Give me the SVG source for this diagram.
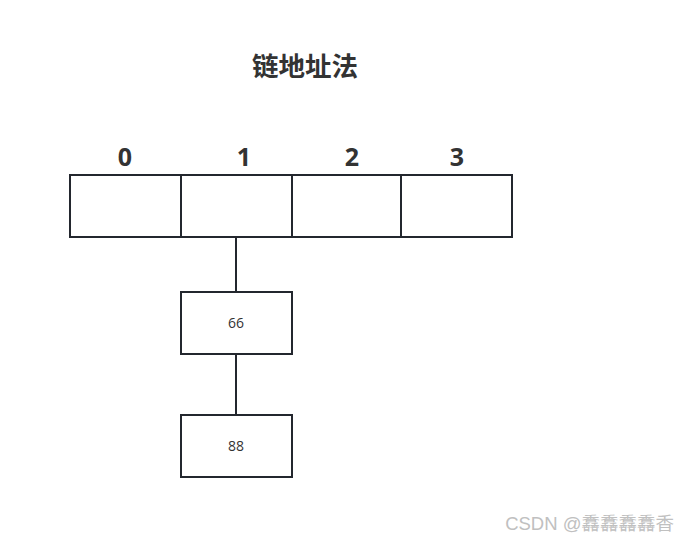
<svg xmlns="http://www.w3.org/2000/svg" width="688" height="542" viewBox="0 0 688 542">
<style>
.box{fill:#fff;stroke:#23272e;stroke-width:2}
.line{stroke:#23272e;stroke-width:2;fill:none}
.idx{font-family:"Open Sans","Noto Sans",sans-serif;font-weight:bold;font-size:25px;fill:#333;text-anchor:middle}
.val{font-family:"Open Sans","Noto Sans",sans-serif;font-size:14px;fill:#333;text-anchor:middle}
</style>
<rect width="688" height="542" fill="#fff"/>
<text x="305" y="76" font-family="'Noto Sans CJK SC',sans-serif" font-weight="bold" font-size="26.5" fill="#333" text-anchor="middle">链地址法</text>
<g id="connectors">
<line class="line" x1="236" y1="238" x2="236" y2="292"/>
<line class="line" x1="236" y1="354" x2="236" y2="415"/>
</g>
<g id="cell0"><rect class="box" x="70" y="175" width="111" height="62"/><text class="idx" x="125" y="166">0</text></g>
<g id="cell1"><rect class="box" x="181" y="175" width="111" height="62"/><text class="idx" x="244" y="166">1</text></g>
<g id="cell2"><rect class="box" x="292" y="175" width="109" height="62"/><text class="idx" x="352" y="166">2</text></g>
<g id="cell3"><rect class="box" x="401" y="175" width="111" height="62"/><text class="idx" x="457" y="166">3</text></g>
<g id="node66"><rect class="box" x="181" y="292" width="111" height="62"/><text class="val" x="236" y="328">66</text></g>
<g id="node88"><rect class="box" x="181" y="415" width="111" height="62"/><text class="val" x="236" y="451">88</text></g>
<text x="674" y="530" font-family="'Liberation Sans','Noto Sans CJK SC',sans-serif" font-size="18.5" fill="#c0c0c0" text-anchor="end">CSDN @馫馫馫馫香</text>
</svg>
